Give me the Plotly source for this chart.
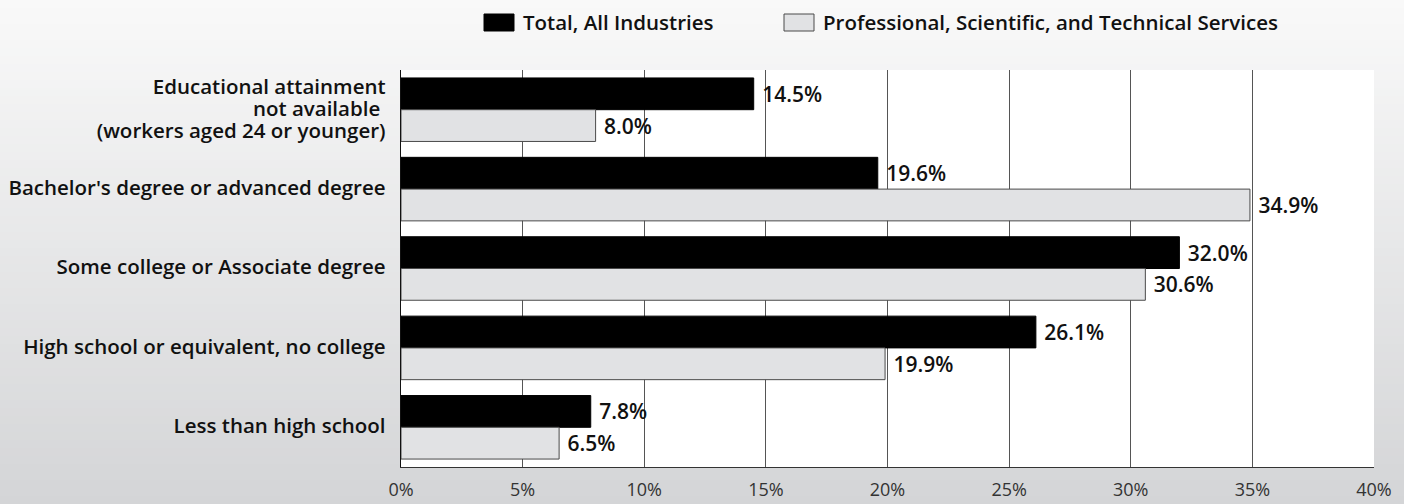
import plotly.graph_objects as go

categories = [
    "Educational attainment<br>not available <br>(workers aged 24 or younger)",
    "Bachelor's degree or advanced degree",
    "Some college or Associate degree",
    "High school or equivalent, no college",
    "Less than high school",
]
series_names = ["Total, All Industries", "Professional, Scientific, and Technical Services"]
total_all = [14.5, 19.6, 32.0, 26.1, 7.8]
prof_sci_tech = [8.0, 34.9, 30.6, 19.9, 6.5]
tick_vals = [0, 5, 10, 15, 20, 25, 30, 35, 40]
tick_text = ["0%", "5%", "10%", "15%", "20%", "25%", "30%", "35%", "40%"]

FONT = "'Open Sans', sans-serif"
W, H = 1404, 504
ML, MR, MT, MB = 401, 30, 70, 37
PW, PH = W - ML - MR, H - MT - MB


def px_x(px):
    return (px - ML) / PW


def px_y(py):
    return (H - MB - py) / PH


bar_colors = ["#000000", "#e1e2e4"]
bar_lines = ["#000000", "#4a4a4a"]

fig = go.Figure()
for name, vals, col, lcol in zip(series_names, [total_all, prof_sci_tech], bar_colors, bar_lines):
    fig.add_trace(go.Bar(
        name=name, y=categories, x=vals, orientation="h",
        marker=dict(color=col, line=dict(color=lcol, width=1)),
        text=[f"\u00a0{v:.1f}%" for v in vals], textposition="outside",
        textfont=dict(family=FONT, size=21, color="#111111", weight=600),
        cliponaxis=False, showlegend=False,
    ))

# vertical background gradient, light at top to grey at bottom
shapes = []
n = 63
top_rgb = (249, 249, 249)
bot_rgb = (212, 213, 215)
for i in range(n):
    t = i / (n - 1)
    c = [round(a + (b - a) * t) for a, b in zip(top_rgb, bot_rgb)]
    y_top = i * H / n
    y_bot = (i + 1) * H / n
    shapes.append(dict(
        type="rect", xref="paper", yref="paper", layer="below",
        x0=px_x(-5), x1=px_x(W + 5), y0=px_y(y_bot + 0.5), y1=px_y(y_top - (5 if i == 0 else 0)),
        fillcolor=f"rgb({c[0]},{c[1]},{c[2]})", line=dict(width=0),
    ))
# white plotting area
shapes.append(dict(type="rect", xref="paper", yref="paper", layer="below",
                   x0=0, x1=1, y0=0, y1=1, fillcolor="white", line=dict(width=0)))

# legend swatches and labels
annotations = []
legend_boxes = [(484, 514), (784, 814)]
for (x0, x1), name, col, lcol in zip(legend_boxes, series_names, bar_colors, bar_lines):
    shapes.append(dict(type="rect", xref="paper", yref="paper",
                       x0=px_x(x0), x1=px_x(x1), y0=px_y(31), y1=px_y(14),
                       fillcolor=col, line=dict(color=lcol, width=1)))
    annotations.append(dict(xref="paper", yref="paper", x=px_x(x1 + 7), y=px_y(22.5),
                            xanchor="left", yanchor="middle", showarrow=False, text=name,
                            font=dict(family=FONT, size=20.5, color="#111111", weight=600)))

# category labels: larger glyphs on a tighter line pitch
cat_labels = [f"<span style='font-size:20.5px'>{c.replace('<br>', '</span><br><span style=\"font-size:20.5px\">')}</span>"
              for c in categories]

fig.update_layout(
    width=W, height=H,
    margin=dict(l=ML, r=MR, t=MT, b=MB, autoexpand=False),
    paper_bgcolor="rgba(0,0,0,0)",
    plot_bgcolor="rgba(0,0,0,0)",
    barmode="group", bargap=0.2, bargroupgap=0,
    shapes=shapes, annotations=annotations,
    showlegend=False,
    xaxis=dict(
        range=[0, 40], tickvals=tick_vals, ticktext=tick_text,
        showgrid=True, gridcolor="#555555", gridwidth=1,
        showline=True, linecolor="#333333", linewidth=1,
        zeroline=False, ticks="", ticklabelstandoff=6,
        tickfont=dict(family=FONT, size=18, color="#333333"),
    ),
    yaxis=dict(
        autorange="reversed", showline=True, linecolor="#111111", linewidth=1,
        showgrid=False, ticks="", ticklabelstandoff=11,
        tickvals=categories, ticktext=cat_labels,
        tickfont=dict(family=FONT, size=17, color="#111111", weight=600),
    ),
    font=dict(family=FONT),
)

fig.write_html("out.html")
